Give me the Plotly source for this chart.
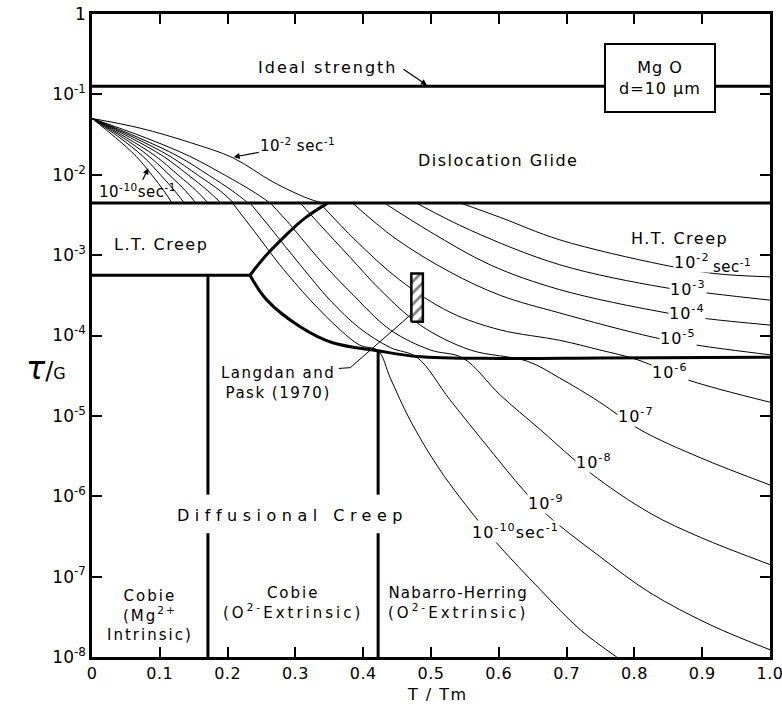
import numpy as np
import plotly.graph_objects as go

FONT = "DejaVu Sans"

# ---- boundaries (x = T/Tm, lg = log10(tau/G)) ----
ideal_lg = -0.90
glide_lg = -2.35
lt_lg = -3.25
upper_x = [0.233, 0.255, 0.285, 0.314, 0.348]
upper_lg = [-3.25, -3.02, -2.76, -2.54, -2.35]
lower_x = [0.233, 0.258, 0.307, 0.355, 0.422, 0.479, 0.602, 0.749, 1.0]
lower_lg = [-3.25, -3.56, -3.89, -4.09, -4.19, -4.26, -4.285, -4.28, -4.27]
vline_x = [0.171, 0.422]
vline_top_lg = [-3.25, -4.19]
gap_lg = [-5.98, -6.46]

# ---- strain-rate contours in the glide field ----
glide_rates = [-2, -3, -4, -5, -6, -7, -8, -9, -10]
glide_x = [
    [0, 0.071, 0.145, 0.208, 0.267, 0.317, 0.339],
    [0, 0.079, 0.144, 0.197, 0.236, 0.2625],
    [0, 0.069, 0.127, 0.173, 0.207, 0.230],
    [0, 0.063, 0.115, 0.157, 0.189, 0.209],
    [0, 0.057, 0.105, 0.143, 0.171, 0.190],
    [0, 0.051, 0.094, 0.128, 0.154, 0.171],
    [0, 0.046, 0.084, 0.115, 0.138, 0.153],
    [0, 0.041, 0.075, 0.102, 0.122, 0.136],
    [0, 0.035, 0.065, 0.089, 0.106, 0.118],
]
glide_lgs = [
    [-1.30, -1.42, -1.60, -1.79, -2.09, -2.29, -2.35],
    [-1.30, -1.54, -1.77, -2.01, -2.20, -2.35],
    [-1.30, -1.54, -1.77, -2.01, -2.20, -2.35],
    [-1.30, -1.54, -1.77, -2.01, -2.20, -2.35],
    [-1.30, -1.54, -1.77, -2.01, -2.20, -2.35],
    [-1.30, -1.54, -1.77, -2.01, -2.20, -2.35],
    [-1.30, -1.54, -1.77, -2.01, -2.20, -2.35],
    [-1.30, -1.54, -1.77, -2.01, -2.20, -2.35],
    [-1.30, -1.54, -1.77, -2.01, -2.20, -2.35],
]

# ---- strain-rate contours in the creep fields ----
creep_x = [
    [0.543, 0.602, 0.690, 0.842, 0.919, 1.0],
    [0.478, 0.558, 0.690, 0.842, 0.916, 1.0],
    [0.431, 0.499, 0.587, 0.690, 0.842, 0.906, 1.0],
    [0.384, 0.447, 0.528, 0.602, 0.690, 0.827, 0.892, 1.0],
    [0.339, 0.388, 0.454, 0.528, 0.602, 0.690, 0.749, 0.804, 0.878, 1.0],
    [0.307, 0.336, 0.381, 0.425, 0.484, 0.558, 0.642, 0.690, 0.749, 0.808, 0.897, 1.0],
    [0.263, 0.292, 0.336, 0.381, 0.440, 0.499, 0.547, 0.602, 0.661, 0.735, 0.823, 0.897, 1.0],
    [0.233, 0.263, 0.307, 0.351, 0.395, 0.440, 0.479, 0.528, 0.587, 0.636, 0.671, 0.749, 0.823, 0.912, 1.0],
    [0.207, 0.240, 0.277, 0.322, 0.366, 0.395, 0.422, 0.440, 0.469, 0.513, 0.572, 0.602, 0.661, 0.720, 0.774],
]
creep_lgs = [
    [-2.35, -2.53, -2.81, -3.12, -3.23, -3.27],
    [-2.35, -2.69, -3.12, -3.40, -3.48, -3.56],
    [-2.35, -2.71, -3.12, -3.43, -3.71, -3.79, -3.87],
    [-2.35, -2.79, -3.21, -3.50, -3.72, -4.02, -4.12, -4.24],
    [-2.38, -2.81, -3.31, -3.71, -3.93, -4.06, -4.18, -4.30, -4.55, -4.83],
    [-2.35, -2.62, -3.03, -3.43, -3.87, -4.18, -4.32, -4.53, -4.83, -5.17, -5.52, -5.86],
    [-2.35, -2.62, -3.06, -3.46, -3.93, -4.18, -4.28, -4.74, -5.17, -5.71, -6.21, -6.51, -6.85],
    [-2.35, -2.66, -3.12, -3.56, -3.91, -4.15, -4.27, -4.80, -5.42, -5.92, -6.23, -6.75, -7.20, -7.60, -7.91],
    [-2.35, -2.71, -3.12, -3.56, -3.93, -4.12, -4.19, -4.53, -5.05, -5.67, -6.33, -6.63, -7.16, -7.66, -8.0],
]

# Langdon & Pask data box and leader
lp_box_x = [0.471, 0.488]
lp_box_lg = [-3.83, -3.23]
lp_lead_x = [0.364, 0.381, 0.473]
lp_lead_lg = [-4.41, -4.40, -3.72]

x_ticks = [0, 0.1, 0.2, 0.3, 0.4, 0.5, 0.6, 0.7, 0.8, 0.9, 1.0]
x_ticktext = ["0", "0.1", "0.2", "0.3", "0.4", "0.5", "0.6", "0.7", "0.8", "0.9", "1.0"]
y_exps = [0, -1, -2, -3, -4, -5, -6, -7, -8]
y_ticktext = ["1"] + ["10<sup>%d</sup>" % e for e in y_exps[1:]]


def P(v):
    return 10 ** np.array(v, dtype=float)


def ls(t, px):
    return '<span style="letter-spacing:%spx">%s</span>' % (px, t)


fig = go.Figure()
thin = dict(color="black", width=1)
thick = dict(color="black", width=3)


def add(x, lg, line, shape="linear"):
    fig.add_trace(go.Scatter(x=x, y=P(lg), mode="lines", line=dict(**line, shape=shape),
                             hoverinfo="skip", showlegend=False))


for gx, gl in zip(glide_x, glide_lgs):
    add(gx, gl, thin, "spline")
for cx, cl in zip(creep_x, creep_lgs):
    add(cx, cl, thin, "spline")

add([0, 1], [ideal_lg, ideal_lg], thick)
add([0, 1], [glide_lg, glide_lg], thick)
add([0, upper_x[0]], [lt_lg, lt_lg], thick)
add(upper_x, upper_lg, thick, "spline")
add(lower_x, lower_lg, thick, "spline")
for vx, vt in zip(vline_x, vline_top_lg):
    add([vx, vx], [vt, gap_lg[0]], thick)
    add([vx, vx], [gap_lg[1], -8], thick)

add(lp_lead_x, lp_lead_lg, thin)
fig.add_trace(go.Scatter(
    x=[lp_box_x[0], lp_box_x[1], lp_box_x[1], lp_box_x[0], lp_box_x[0]],
    y=P([lp_box_lg[0], lp_box_lg[0], lp_box_lg[1], lp_box_lg[1], lp_box_lg[0]]),
    mode="lines", fill="toself", line=dict(color="black", width=2.5),
    fillcolor="white",
    fillpattern=dict(shape="/", size=8, solidity=0.35, fgcolor="black", bgcolor="white"),
    hoverinfo="skip", showlegend=False))


def ann(x, lg, text, size=15, bg=None, **kw):
    d = dict(x=x, y=lg, xref="x", yref="y", text=text, showarrow=False,
             font=dict(family=FONT, size=size, color="black"))
    if bg:
        d["bgcolor"] = bg
    d.update(kw)
    fig.add_annotation(**d)


ann(0.348, -0.67, ls("Ideal strength", 2), 16)
fig.add_annotation(x=0.494, y=-0.885, xref="x", yref="y", ax=-25, ay=-17, text="",
                   showarrow=True, arrowhead=2, arrowsize=1, arrowwidth=1.2, arrowcolor="black")
ann(0.838, -0.80, ls("Mg O", 1) + "<br>" + ls("d=10 μm", 1), 16, bg="white",
    bordercolor="black", borderwidth=2, width=106, height=64)
ann(0.599, -1.82, ls("Dislocation Glide", 1.5), 16)
ann(0.102, -2.87, ls("L.T. Creep", 1.5), 16)
ann(0.867, -2.79, ls("H.T. Creep", 1.5), 16)

fig.add_annotation(x=0.209, y=-1.78, xref="x", yref="y", ax=64, ay=-12,
                   text=ls("10<sup>-2</sup> sec<sup>-1</sup>", 0.5), showarrow=True, arrowhead=2,
                   arrowwidth=1.2, arrowcolor="black",
                   font=dict(family=FONT, size=15, color="black"))
fig.add_annotation(x=0.083, y=-1.92, xref="x", yref="y", ax=-11, ay=23,
                   text=ls("10<sup>-10</sup>sec<sup>-1</sup>", 0.5), showarrow=True, arrowhead=2,
                   arrowwidth=1.2, arrowcolor="black",
                   font=dict(family=FONT, size=15, color="black"))

right_labels = [
    (0.885, -3.08, "10<sup>-2</sup>"),
    (0.879, -3.41, "10<sup>-3</sup>"),
    (0.878, -3.71, "10<sup>-4</sup>"),
    (0.864, -4.02, "10<sup>-5</sup>"),
    (0.853, -4.45, "10<sup>-6</sup>"),
    (0.802, -5.00, "10<sup>-7</sup>"),
    (0.740, -5.57, "10<sup>-8</sup>"),
    (0.670, -6.08, "10<sup>-9</sup>"),
    (0.624, -6.44, "10<sup>-10</sup>sec<sup>-1</sup>"),
]
for lx, ly, lt in right_labels:
    ann(lx, ly, ls(lt, 1), 16, bg="white", borderpad=0)
ann(0.944, -3.13, ls("sec<sup>-1</sup>", 0.5), 15)

ann(0.274, -4.59, ls("Langdan and", 1.5) + "<br>" + ls("Pask (1970)", 1.5), 15)
ann(0.296, -6.24, ls("Diffusional Creep", 5.5), 16)
ann(0.086, -7.48, ls("Cobie", 2) + "<br>" + ls("(Mg<sup>2+</sup>", 2) + "<br>" + ls("Intrinsic)", 2), 15)
ann(0.296, -7.33, ls("Cobie", 2) + "<br>" + ls("(O<sup>2-</sup>Extrinsic)", 3), 15)
ann(0.540, -7.33, ls("Nabarro-Herring", 1.2) + "<br>" + ls("(O<sup>2-</sup>Extrinsic)", 3), 15)

fig.add_annotation(x=-0.10, y=0.449, xref="paper", yref="paper", showarrow=False,
                   text='<i><span style="font-size:32px">τ</span></i>/<span style="font-size:16px">G</span>',
                   font=dict(family=FONT, size=24, color="black"))
fig.add_annotation(x=0.51, y=-0.059, xref="paper", yref="paper", showarrow=False,
                   yanchor="middle", text=ls("T / Tm", 1.5),
                   font=dict(family=FONT, size=16, color="black"))

axis_common = dict(showline=True, linewidth=2.5, linecolor="black", mirror="ticks",
                   ticks="inside", ticklen=10, tickwidth=1.5, tickcolor="black",
                   showgrid=False, zeroline=False, automargin=False,
                   ticklabeloverflow="allow")
fig.update_xaxes(range=[0, 1], tickvals=x_ticks, ticktext=[ls(t, 0.5) for t in x_ticktext],
                 tickfont=dict(family=FONT, size=16, color="black"), **axis_common)
fig.update_yaxes(type="log", range=[-8, 0], tickvals=P(y_exps), ticktext=y_ticktext,
                 tickfont=dict(family=FONT, size=17, color="black"), **axis_common)

fig.update_layout(width=782, height=705, margin=dict(l=92, r=12, t=14, b=48, autoexpand=False),
                  plot_bgcolor="white", paper_bgcolor="white", showlegend=False)

fig.write_html("out.html")
